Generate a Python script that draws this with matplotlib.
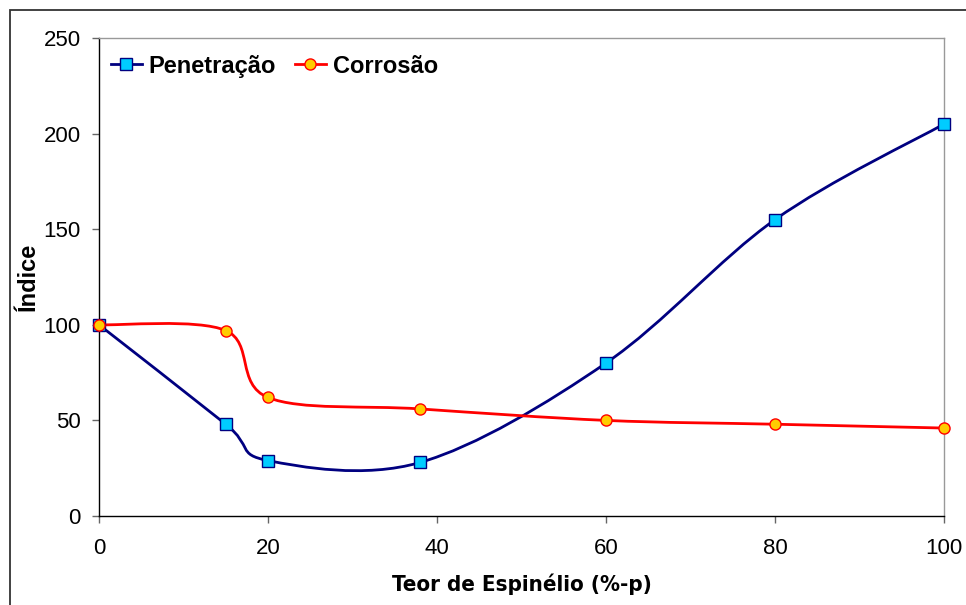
from __future__ import annotations

import matplotlib

matplotlib.use("Agg")

import matplotlib.pyplot as plt
import numpy as np
from matplotlib.lines import Line2D
from matplotlib.patches import PathPatch, Rectangle
from matplotlib.path import Path


TEOR = [0, 15, 20, 38, 60, 80, 100]
PENETRACAO = [100, 48, 29, 28, 80, 155, 205]
CORROSAO = [100, 97, 62, 56, 50, 48, 46]

X_TICKS = [0, 20, 40, 60, 80, 100]
Y_TICKS = [0, 50, 100, 150, 200, 250]

NAVY = "#000080"
RED = "#FF0000"
CYAN = "#00CCFF"
GOLD = "#FFCC00"

plt.rcParams["font.family"] = ["Liberation Sans", "DejaVu Sans"]


def smooth_path(xs, ys) -> Path:
    # Excel-like smoothed line: cubic Bezier through the points (Catmull-Rom, tension 1/6)
    pts = np.column_stack([xs, ys]).astype(float)
    ext = np.vstack([pts[0], pts, pts[-1]])
    verts = [pts[0]]
    codes = [Path.MOVETO]
    for i in range(1, len(ext) - 2):
        p0, p1, p2, p3 = ext[i - 1], ext[i], ext[i + 1], ext[i + 2]
        c1 = p1 + (p2 - p0) / 6.0
        c2 = p2 - (p3 - p1) / 6.0
        verts += [c1, c2, p2]
        codes += [Path.CURVE4] * 3
    return Path(verts, codes)


def draw_series(ax, xs, ys, line_color, marker, face, label):
    edge = line_color
    patch = PathPatch(smooth_path(xs, ys), facecolor="none", edgecolor=line_color,
                      lw=2.0, zorder=3, clip_on=False)
    ax.add_patch(patch)
    ax.plot(xs, ys, linestyle="none", marker=marker, markersize=8,
            markerfacecolor=face, markeredgecolor=edge,
            markeredgewidth=1.0, zorder=4, clip_on=False)
    return Line2D([], [], color=line_color, lw=2.0, marker=marker, markersize=8,
                  markerfacecolor=face, markeredgecolor=edge, markeredgewidth=1.0,
                  label=label)


def main() -> None:
    fig = plt.figure(figsize=(9.66, 6.05), dpi=100)
    ax = fig.add_axes([99 / 966, 1 - 516 / 605, (944 - 99) / 966, (516 - 38) / 605])

    fig.add_artist(Rectangle((9.5 / 966, -0.1), 1.2, 1.1 - 10.5 / 605,
                             transform=fig.transFigure, fill=False,
                             edgecolor="#333333", lw=1.3))

    h1 = draw_series(ax, TEOR, PENETRACAO, NAVY, "s", CYAN, "Penetração")
    h2 = draw_series(ax, TEOR, CORROSAO, RED, "o", GOLD, "Corrosão")

    ax.set_xlim(0, 100)
    ax.set_ylim(0, 250)
    ax.set_xticks(X_TICKS, labels=[str(t) for t in X_TICKS], fontsize=16)
    ax.set_yticks(Y_TICKS)

    for side in ["left", "bottom"]:
        ax.spines[side].set_color("black")
        ax.spines[side].set_linewidth(1.0)
    for side in ["top", "right"]:
        ax.spines[side].set_color("#999999")
        ax.spines[side].set_linewidth(1.0)

    ax.tick_params(axis="both", direction="out", length=5, width=1.0, color="#666666")
    ax.tick_params(axis="y", labelsize=16, pad=8)
    ax.tick_params(axis="x", pad=11)

    ax.set_xlabel("Teor de Espinélio (%-p)", fontsize=16, fontweight="bold",
                  family="DejaVu Sans", fontstretch="condensed", labelpad=10)
    ax.set_ylabel("Índice", fontsize=17, fontweight="bold", labelpad=3)

    ax.legend(handles=[h1, h2], loc="upper left", bbox_to_anchor=(0.0, 0.99),
              ncol=2, frameon=False, prop={"size": 17, "weight": "bold"},
              handlelength=1.3, handletextpad=0.3, columnspacing=0.8,
              borderaxespad=0.0, borderpad=0.5)

    fig.savefig("out.png", dpi=100)
    plt.close(fig)


if __name__ == "__main__":
    main()
